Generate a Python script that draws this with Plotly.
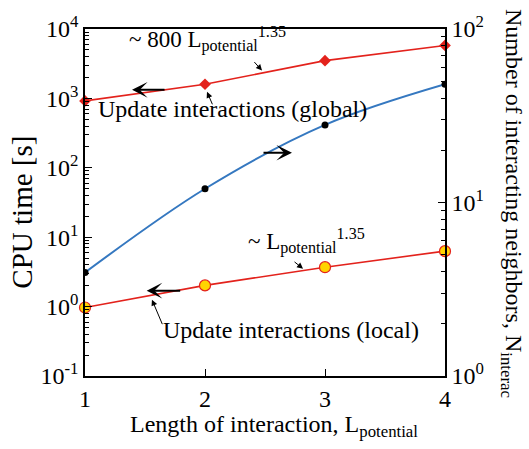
import plotly.graph_objects as go

# Interaction length (x) and measured quantities
length = [1, 2, 3, 4]
cpu_global = [920, 1600, 3500, 5800]      # CPU time [s], global update
cpu_local = [0.97, 2.02, 3.7, 6.3]        # CPU time [s], local update
n_interac = [3.95, 12.0, 28.0, 48.0]      # number of interacting neighbors

left_ticks = [0.1, 1, 10, 100, 1000, 10000]
left_labels = ["10<sup>-1</sup>", "10<sup>0</sup>", "10<sup>1</sup>",
               "10<sup>2</sup>", "10<sup>3</sup>", "10<sup>4</sup>"]
right_ticks = [1, 10, 100]
right_labels = ["10<sup>0</sup>", "10<sup>1</sup>", "10<sup>2</sup>"]

FONT = "Liberation Serif"
RED = "#e3221c"
BLUE = "#3578c0"

# plot-area geometry in pixels
L, R, T, B = 85, 445, 17, 376


def px(xp, yp):
    """Convert a pixel position on the page to paper coordinates."""
    return (xp - L) / (R - L), (B - yp) / (B - T)


def minor_vals(lo, hi):
    vals = []
    for e in range(lo, hi):
        for m in range(2, 10):
            vals.append(m * 10 ** e)
    return vals


fig = go.Figure()

fig.add_trace(go.Scatter(
    x=length, y=n_interac, yaxis="y2", mode="lines+markers",
    line=dict(color=BLUE, width=2, shape="spline"),
    marker=dict(color="black", size=7),
    showlegend=False))

fig.add_trace(go.Scatter(
    x=length, y=cpu_global, mode="lines+markers",
    line=dict(color=RED, width=1.6),
    marker=dict(symbol="diamond", color=RED, size=9),
    showlegend=False, cliponaxis=False))

fig.add_trace(go.Scatter(
    x=length, y=cpu_local, mode="lines+markers",
    line=dict(color=RED, width=1.6),
    marker=dict(symbol="circle", color="#ffd400", size=11,
                line=dict(color=RED, width=1.2)),
    showlegend=False, cliponaxis=False))

axis_common = dict(ticks="inside", ticklen=7, tickwidth=1.2, tickcolor="black",
                   showline=True, linecolor="black", linewidth=1.5,
                   showgrid=False, zeroline=False,
                   tickfont=dict(family=FONT, size=24))

fig.update_layout(
    width=529, height=449,
    margin=dict(l=L, r=529 - R, t=T, b=449 - B),
    plot_bgcolor="white", paper_bgcolor="white",
    font=dict(family=FONT, color="black", size=22),
    xaxis=dict(range=[1, 4], tickvals=length, ticktext=[str(v) for v in length],
               mirror=True, **axis_common),
    yaxis=dict(type="log", range=[-1, 4], tickvals=left_ticks, ticktext=left_labels,
               minor=dict(tickvals=minor_vals(-1, 4), ticks="inside", ticklen=4,
                          tickwidth=1, tickcolor="black", showgrid=False),
               **axis_common),
    yaxis2=dict(type="log", range=[0, 2], overlaying="y", side="right",
                tickvals=right_ticks, ticktext=right_labels,
                minor=dict(tickvals=minor_vals(0, 2), ticks="inside", ticklen=4,
                           tickwidth=1, tickcolor="black", showgrid=False),
                **axis_common),
)

ann = []


def text_at(xp, yp, text, size, angle=0, xanchor="center", yanchor="middle"):
    x, y = px(xp, yp)
    ann.append(dict(xref="paper", yref="paper", x=x, y=y, text=text, textangle=angle,
                    showarrow=False, font=dict(family=FONT, size=size),
                    xanchor=xanchor, yanchor=yanchor))


# axis titles
text_at(274, 428, "Length of interaction, L<sub>potential</sub>", 24)
text_at(22, 207, "CPU time [s]", 29, -90)
text_at(512, 197, "Number of interacting neighbors, N<sub>interac</sub>", 24, 90)

# series labels
text_at(207, 27, "~ 800 L<sub>potential</sub><sup>1.35</sup>", 23)
text_at(232, 100, "Update interactions (global)", 24)
text_at(306, 236, "~ L<sub>potential</sub><sup>1.35</sup>", 23)
text_at(291, 328, "Update interactions (local)", 24)

# thick arrows pointing to the axis each curve belongs to
for hx, hy, dx in [(1.392, 3.123, 34), (2.725, 2.217, -30), (1.514, 0.23, 35)]:
    ann.append(dict(xref="x", yref="y", x=hx, y=hy, ax=dx, ay=0, text="",
                    showarrow=True, arrowhead=3, arrowwidth=2, arrowsize=1.3,
                    arrowcolor="black", standoff=0, startstandoff=0))

# thin leader arrows from labels to curves
for hx, hy, dx, dy in [(2.017, 3.095, 6, 14), (2.475, 3.401, -9, -10),
                       (2.817, 0.546, -10, -8), (1.558, 0.10, 11, 26)]:
    ann.append(dict(xref="x", yref="y", x=hx, y=hy, ax=dx, ay=dy, text="",
                    showarrow=True, arrowhead=2, arrowwidth=1, arrowsize=1.2,
                    arrowcolor="black", standoff=0, startstandoff=0))

fig.update_layout(annotations=ann)

fig.write_html("out.html")
